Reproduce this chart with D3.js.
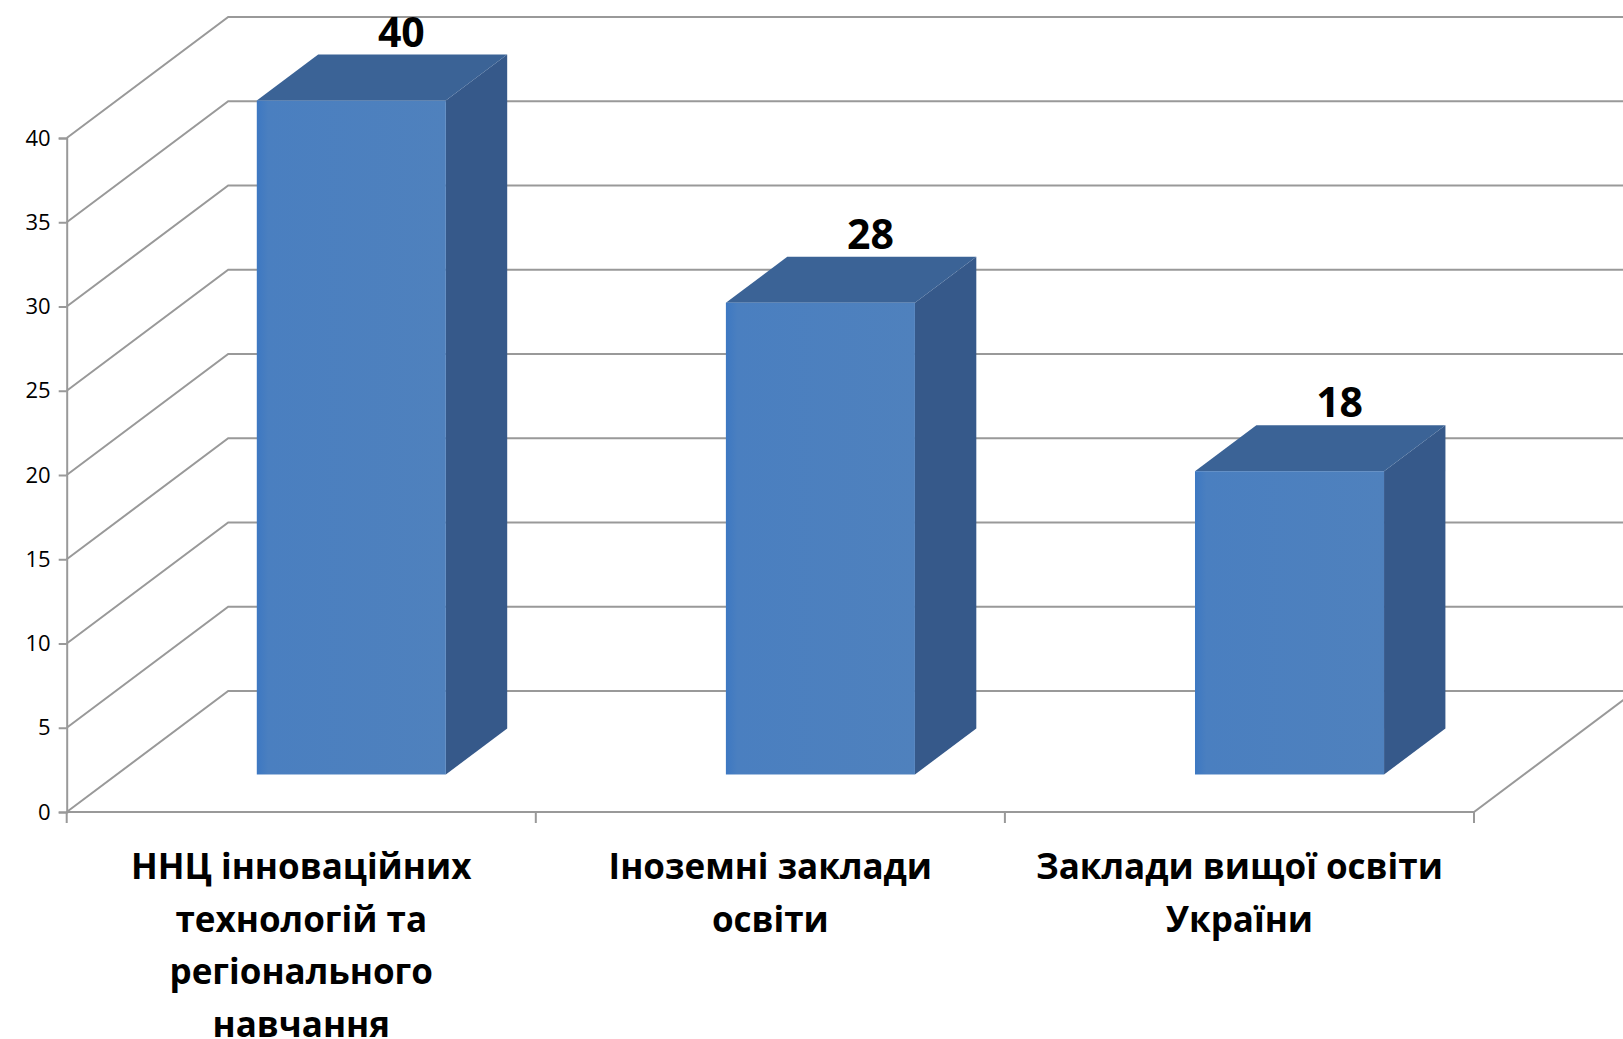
<!DOCTYPE html>
<html>
<head>
<meta charset="utf-8">
<script src="https://cdn.jsdelivr.net/npm/d3@7"></script>
<style>
  html, body { margin: 0; padding: 0; background: #ffffff; }
  svg { display: block; }
</style>
</head>
<body>
<svg id="chart" width="1623" height="1039"></svg>
<script>
// ---- data ----
const categories = [
  "ННЦ інноваційних технологій та регіонального навчання",
  "Іноземні заклади освіти",
  "Заклади вищої освіти України"
];
const categoryLines = [
  ["ННЦ інноваційних", "технологій та", "регіонального", "навчання"],
  ["Іноземні заклади", "освіти"],
  ["Заклади вищої освіти", "України"]
];
const values = [40, 28, 18];
const yTicks = [0, 5, 10, 15, 20, 25, 30, 35, 40];

// ---- layout ----
const W = 1623, H = 1039;
const x0 = 66.7, x1 = 1474;
const depth = { dx: 161.5, dy: -121 };
const barDepth = { t0: 0.31, t1: 0.69 };
const barWidthFrac = 0.403;

const svg = d3.select("#chart");

const x = d3.scaleBand().domain(categories).range([x0, x1]).padding(0);
const y = d3.scaleLinear().domain([0, 40]).range([812, 138]);

const defs = svg.append("defs");
const g1 = defs.append("linearGradient").attr("id", "frontGrad")
  .attr("x1", "0%").attr("x2", "100%").attr("y1", "0%").attr("y2", "0%");
g1.append("stop").attr("offset", "0%").attr("stop-color", "#3d78c2");
g1.append("stop").attr("offset", "6%").attr("stop-color", "#4a7fc0");
g1.append("stop").attr("offset", "100%").attr("stop-color", "#4f81bd");

const gridColor = "#999999";
const grid = svg.append("g").attr("fill", "none").attr("stroke", gridColor).attr("stroke-width", 2);

// back wall + left wall gridlines
yTicks.forEach(v => {
  const yy = y(v);
  grid.append("path").attr("d", d3.line()([
    [x0, yy],
    [x0 + depth.dx, yy + depth.dy],
    [x1 + depth.dx + 20, yy + depth.dy]
  ]));
});
// floor front edge and right edge
grid.append("path").attr("d", d3.line()([
  [x0, y(0)], [x1, y(0)], [x1 + depth.dx, y(0) + depth.dy]
]));

// y axis
const yAxis = d3.axisLeft(y).tickValues(yTicks).tickSize(8).tickPadding(8);
const ya = svg.append("g").attr("transform", `translate(${x0},0)`).call(yAxis);
ya.select(".domain").attr("stroke", gridColor).attr("stroke-width", 2);
ya.selectAll(".tick line").attr("stroke", gridColor).attr("stroke-width", 2);
ya.selectAll(".tick text")
  .attr("font-family", "'Open Sans', sans-serif")
  .attr("font-size", 22)
  .attr("fill", "#000");

// x axis ticks (category boundaries)
const boundaries = categories.map(c => x(c)).concat([x1]);
svg.append("g").selectAll("line").data(boundaries).join("line")
  .attr("x1", d => d).attr("x2", d => d)
  .attr("y1", y(0)).attr("y2", y(0) + 11)
  .attr("stroke", gridColor).attr("stroke-width", 2);

// bars
const bw = x.bandwidth() * barWidthFrac;
const bars = svg.append("g");
categories.forEach((c, i) => {
  const v = values[i];
  const bx = x(c) + (x.bandwidth() - bw) / 2;
  const fx = t => depth.dx * t, fy = t => depth.dy * t;
  const t0 = barDepth.t0, t1 = barDepth.t1;
  const L0 = bx + fx(t0), R0 = bx + bw + fx(t0);
  const L1 = bx + fx(t1), R1 = bx + bw + fx(t1);
  const top0 = y(v) + fy(t0), bot0 = y(0) + fy(t0);
  const top1 = y(v) + fy(t1), bot1 = y(0) + fy(t1);

  // side
  bars.append("path")
    .attr("d", d3.line()([[R0, top0], [R1, top1], [R1, bot1], [R0, bot0]]) + "Z")
    .attr("fill", "#36598a");
  // top
  bars.append("path")
    .attr("d", d3.line()([[L0, top0], [R0, top0], [R1, top1], [L1, top1]]) + "Z")
    .attr("fill", "#3b6396");
  // front
  bars.append("rect")
    .attr("x", L0).attr("y", top0)
    .attr("width", R0 - L0).attr("height", bot0 - top0)
    .attr("fill", "url(#frontGrad)");

  // value label
  bars.append("text")
    .attr("x", bx + bw / 2 + fx(0.62))
    .attr("y", top1 - 8)
    .attr("text-anchor", "middle")
    .attr("font-family", "'Open Sans', sans-serif")
    .attr("font-weight", 700)
    .attr("font-size", 41)
    .attr("fill", "#000")
    .text(v);
});

// category labels
const labels = svg.append("g")
  .attr("font-family", "'Open Sans', sans-serif")
  .attr("font-weight", 700)
  .attr("font-size", 35)
  .attr("fill", "#000")
  .attr("text-anchor", "middle");
categories.forEach((c, i) => {
  const t = labels.append("text")
    .attr("x", x(c) + x.bandwidth() / 2)
    .attr("y", 879);
  categoryLines[i].forEach((ln, j) => {
    t.append("tspan")
      .attr("x", x(c) + x.bandwidth() / 2)
      .attr("dy", j === 0 ? 0 : 52.5)
      .text(ln);
  });
});
</script>
</body>
</html>
